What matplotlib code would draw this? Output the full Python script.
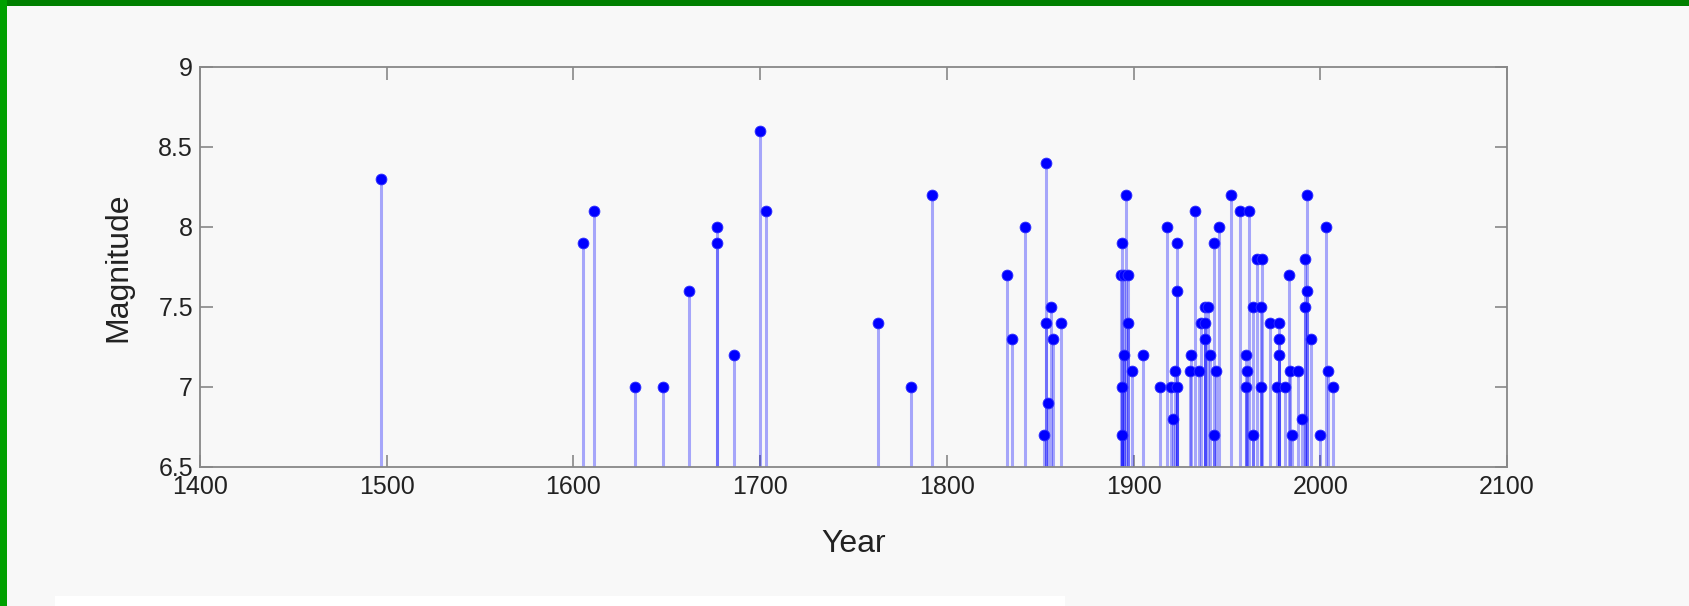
import matplotlib
matplotlib.use("Agg")
import matplotlib.pyplot as plt
from matplotlib.patches import Rectangle

years = [1497, 1605, 1611, 1633, 1648, 1662, 1677, 1677, 1686, 1700, 1703,
         1763, 1781, 1792,
         1832, 1835, 1842, 1853, 1853, 1856, 1857, 1854, 1852, 1861,
         1896, 1894, 1893, 1895, 1897, 1897, 1895, 1899, 1905, 1894, 1894,
         1918, 1923, 1923, 1914, 1920, 1923, 1922, 1921,
         1931, 1930, 1935, 1933, 1938, 1940, 1936, 1938, 1938, 1941, 1944,
         1943, 1943, 1946,
         1952, 1957, 1962, 1966, 1969, 1964, 1968, 1960, 1961, 1960, 1968, 1964,
         1973, 1978, 1978, 1978, 1977, 1981, 1983, 1984, 1988, 1985, 1990,
         1993, 1992, 1993, 1992, 1995, 2003, 2004, 2000, 2007]
magnitudes = [8.3, 7.9, 8.1, 7.0, 7.0, 7.6, 8.0, 7.9, 7.2, 8.6, 8.1,
              7.4, 7.0, 8.2,
              7.7, 7.3, 8.0, 8.4, 7.4, 7.5, 7.3, 6.9, 6.7, 7.4,
              8.2, 7.9, 7.7, 7.7, 7.7, 7.4, 7.2, 7.1, 7.2, 7.0, 6.7,
              8.0, 7.9, 7.6, 7.0, 7.0, 7.0, 7.1, 6.8,
              7.2, 7.1, 7.1, 8.1, 7.5, 7.5, 7.4, 7.4, 7.3, 7.2, 7.1,
              7.9, 6.7, 8.0,
              8.2, 8.1, 8.1, 7.8, 7.8, 7.5, 7.5, 7.2, 7.1, 7.0, 7.0, 6.7,
              7.4, 7.4, 7.3, 7.2, 7.0, 7.0, 7.7, 7.1, 7.1, 6.7, 6.8,
              8.2, 7.8, 7.6, 7.5, 7.3, 8.0, 7.1, 6.7, 7.0]

xticks = [1400, 1500, 1600, 1700, 1800, 1900, 2000, 2100]
yticks = [6.5, 7, 7.5, 8, 8.5, 9]
ytick_labels = ["6.5", "7", "7.5", "8", "8.5", "9"]

plt.rcParams['font.family'] = ['Liberation Sans', 'DejaVu Sans']

W, H = 1690, 606
fig = plt.figure(figsize=(W / 100, H / 100), dpi=100)
bg = '#f8f8f8'
fig.patch.set_facecolor(bg)

# frame decorations
fig.patches.append(Rectangle((0, 1 - 6 / H), 1, 6 / H, transform=fig.transFigure,
                             facecolor='#008000', edgecolor='none', zorder=0))
fig.patches.append(Rectangle((0, 0), 7 / W, 1, transform=fig.transFigure,
                             facecolor='#00a000', edgecolor='none', zorder=0))
fig.patches.append(Rectangle((55 / W, 0), (1065 - 55) / W, 10 / H, transform=fig.transFigure,
                             facecolor='white', edgecolor='none', zorder=0))

left, right = 200 / W, 1507 / W
bottom, top = (H - 467) / H, (H - 66.7) / H
ax = fig.add_axes([left, bottom, right - left, top - bottom])
ax.set_facecolor(bg)

ax.vlines(years, 6.5, magnitudes, colors='#0000ff', alpha=0.33, linewidth=2.2, zorder=2)
ax.plot(years, magnitudes, linestyle='none', marker='o', markersize=7.8,
        markerfacecolor='#0000ff', markeredgecolor='#3030ff', markeredgewidth=0.6, zorder=3)

ax.set_xlim(1400, 2100)
ax.set_ylim(6.5, 9)
ax.set_xticks(xticks)
ax.set_xticklabels([str(t) for t in xticks])
ax.set_yticks(yticks)
ax.set_yticklabels(ytick_labels)

for s in ax.spines.values():
    s.set_color('#888888')
    s.set_linewidth(1.3)

ax.tick_params(direction='in', length=9, width=1.2, color='#888888',
               top=True, right=True, labelsize=18, labelcolor='#222222')
ax.tick_params(axis='x', pad=6)
ax.tick_params(axis='y', pad=5)

ax.set_xlabel('Year', fontsize=23, color='#222222')
ax.set_ylabel('Magnitude', fontsize=23, color='#222222')
ax.xaxis.set_label_coords(0.5, -0.155)
ax.yaxis.set_label_coords(-0.051, 0.5)

fig.savefig('out.png', dpi=100, facecolor=fig.get_facecolor())
